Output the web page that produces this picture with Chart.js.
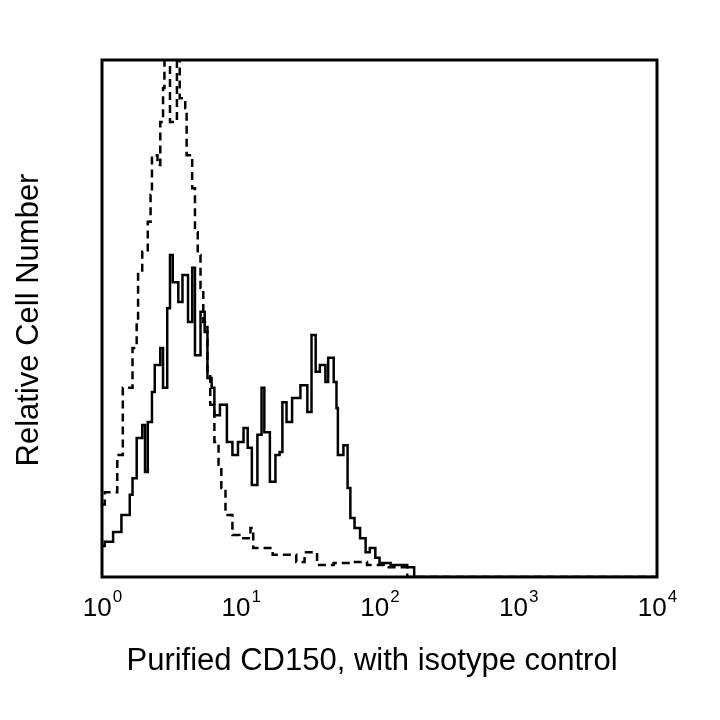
<!DOCTYPE html>
<html><head><meta charset="utf-8">
<script src="https://cdn.jsdelivr.net/npm/chart.js@4/dist/chart.umd.min.js"></script>
<style>html,body{margin:0;padding:0;background:#fff}#w{width:720px;height:720px}</style>
</head><body><div id="w"><canvas id="c"></canvas></div>
<script>
const xTickValues=[0,1,2,3,4];
const xTickExponents=["0","1","2","3","4"];
const xTitle="Purified CD150, with isotype control";
const yTitle="Relative Cell Number";
const isoX=[0,0.02,0.11,0.15,0.22,0.25,0.26,0.29,0.33,0.35,0.36,0.40,0.42,0.44,0.45,0.49,0.54,0.56,0.60,0.61,0.65,0.67,0.69,0.71,0.73,0.76,0.78,0.81,0.84,0.86,0.89,0.94,0.99,1.07,1.09,1.19,1.23,1.32,1.40,1.46,1.55,1.67,1.79,1.91,2.03,2.15,2.2,4];
const isoY=[14,16.4,23.6,36.6,44.3,49.3,59,62.9,68.7,73.9,81.6,79.7,88,94.6,102,88,102,92.6,90.7,81.6,75.2,66.7,62.3,55.9,49.3,39.7,33.3,26.1,21.7,17.2,12,8.1,7.5,9.5,5.6,5.6,4.3,4.3,2.9,4.8,2.3,2.7,2.9,2.3,1.9,1.9,0,0];
const cdX=[0,0.02,0.08,0.14,0.20,0.22,0.25,0.29,0.31,0.33,0.36,0.38,0.42,0.44,0.47,0.49,0.51,0.55,0.58,0.62,0.65,0.67,0.71,0.74,0.76,0.79,0.81,0.85,0.90,0.94,0.98,1.02,1.05,1.08,1.12,1.15,1.17,1.21,1.25,1.28,1.30,1.33,1.37,1.43,1.48,1.51,1.54,1.57,1.61,1.63,1.67,1.69,1.70,1.74,1.77,1.79,1.82,1.86,1.90,1.93,1.97,2.0,2.08,2.20,2.25,4];
const cdY=[6,6.8,8.7,12,15.9,19.1,26.9,29.4,20.3,30,35.8,41,44.3,36.6,52,62.3,57,53.2,58.4,49.3,59.8,42.9,51.3,47.4,38.5,36.6,31.3,33.3,26.1,23.6,26.1,28.8,25,17.8,27.5,36.6,28,18.4,23.6,24.2,33.8,30,34.6,37.1,31.9,46.8,39.7,41,37.7,42.4,37.7,32.7,23.6,25.5,17.2,11.4,9.5,7.5,4.8,5.6,3.7,2.7,2.3,1.9,0,0];
const pts=(xs,ys)=>xs.map((x,i)=>({x:x,y:ys[i]}));
const F='Arial, "Liberation Sans"';
const deco={id:'deco',afterDraw(ch){
 const c=ch.ctx,a=ch.chartArea,xs=ch.scales.x;
 c.save();c.strokeStyle='#000';c.lineWidth=3;c.strokeRect(a.left,a.top,a.right-a.left,a.bottom-a.top);
 c.fillStyle='#000';c.textBaseline='alphabetic';
 xTickValues.forEach((v,i)=>{const px=xs.getPixelForValue(v);
  c.font='26px '+F;const w1=c.measureText('10').width;
  c.font='17px '+F;const w2=c.measureText(xTickExponents[i]).width;
  const s=px-(w1+w2)/2;c.font='26px '+F;c.fillText('10',s,616);
  c.font='17px '+F;c.fillText(xTickExponents[i],s+w1+1,602);});
 c.font='31px '+F;c.textAlign='center';c.fillText(xTitle,372,670);
 c.translate(38,320);c.rotate(-Math.PI/2);c.fillText(yTitle,0,0);
 c.restore();}};
new Chart(document.getElementById('c'),{type:'line',
 data:{datasets:[
  {data:pts(isoX,isoY),borderColor:'#000',borderWidth:2.5,borderDash:[8,5],stepped:true,pointRadius:0,fill:false},
  {data:pts(cdX,cdY),borderColor:'#000',borderWidth:2.5,stepped:true,pointRadius:0,fill:false}]},
 options:{responsive:true,maintainAspectRatio:false,animation:false,
  layout:{padding:{left:102,right:63,top:60,bottom:143}},
  plugins:{legend:{display:false},tooltip:{enabled:false}},
  scales:{x:{type:'linear',min:0,max:4,display:false},y:{min:0,max:100,display:false}}},
 plugins:[deco]});
</script></body></html>
